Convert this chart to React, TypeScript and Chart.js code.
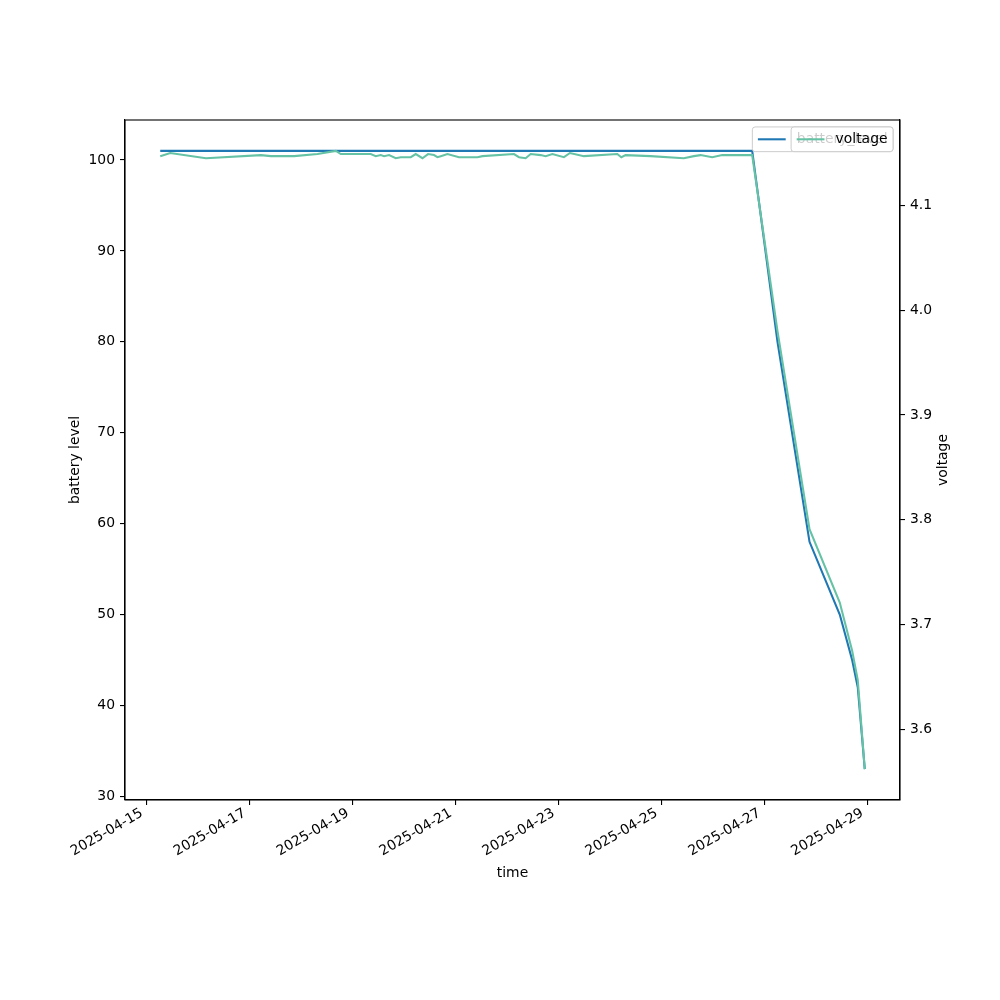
import React, { useEffect, useRef } from "react";
import { Chart, registerables } from "chart.js";

Chart.register(...registerables);

// ---- data ----
const times: string[] = [
  "2025-04-15T06:12", "2025-04-15T10:52", "2025-04-16T03:30", "2025-04-17T05:08",
  "2025-04-17T09:47", "2025-04-17T20:39", "2025-04-18T07:33", "2025-04-18T16:05",
  "2025-04-18T18:25", "2025-04-19T08:23", "2025-04-19T10:43", "2025-04-19T13:03",
  "2025-04-19T14:35", "2025-04-19T16:55", "2025-04-19T20:02", "2025-04-19T22:22",
  "2025-04-20T03:02", "2025-04-20T05:22", "2025-04-20T08:29", "2025-04-20T11:05",
  "2025-04-20T13:53", "2025-04-20T15:28", "2025-04-20T17:01", "2025-04-20T20:08",
  "2025-04-21T01:32", "2025-04-21T10:07", "2025-04-21T12:27", "2025-04-22T03:10",
  "2025-04-22T05:30", "2025-04-22T08:37", "2025-04-22T10:57", "2025-04-22T15:37",
  "2025-04-22T17:57", "2025-04-22T21:04", "2025-04-23T02:28", "2025-04-23T05:16",
  "2025-04-23T11:47", "2025-04-24T03:21", "2025-04-24T05:13", "2025-04-24T07:13",
  "2025-04-24T18:52", "2025-04-25T10:23", "2025-04-25T15:03", "2025-04-25T18:10",
  "2025-04-25T23:37", "2025-04-26T04:17", "2025-04-26T18:15", "2025-04-27T06:03",
  "2025-04-27T20:59", "2025-04-28T11:05", "2025-04-28T16:52", "2025-04-28T19:29",
  "2025-04-28T22:45",
];

const batteryLevel: number[] = [
  101, 101, 101, 101, 101, 101, 101, 101, 101, 101,
  101, 101, 101, 101, 101, 101, 101, 101, 101, 101,
  101, 101, 101, 101, 101, 101, 101, 101, 101, 101,
  101, 101, 101, 101, 101, 101, 101, 101, 101, 101,
  101, 101, 101, 101, 101, 101, 101, 80, 58, 50,
  45, 42, 33,
];

const voltage: number[] = [
  4.147, 4.150, 4.145, 4.148, 4.147, 4.147, 4.149, 4.152, 4.149, 4.149,
  4.147, 4.148, 4.147, 4.148, 4.145, 4.146, 4.146, 4.149, 4.145, 4.149,
  4.148, 4.146, 4.147, 4.149, 4.146, 4.146, 4.147, 4.149, 4.146, 4.145,
  4.149, 4.148, 4.147, 4.149, 4.146, 4.150, 4.147, 4.149, 4.146, 4.148,
  4.147, 4.145, 4.147, 4.148, 4.146, 4.148, 4.148, 3.980, 3.791, 3.721,
  3.675, 3.647, 3.562,
];

const xTickLabels: string[] = [
  "2025-04-15", "2025-04-17", "2025-04-19", "2025-04-21",
  "2025-04-23", "2025-04-25", "2025-04-27", "2025-04-29",
];
const batteryTicks: number[] = [30, 40, 50, 60, 70, 80, 90, 100];
const voltageTicks: number[] = [3.6, 3.7, 3.8, 3.9, 4.0, 4.1];

// ---- styling ----
const FONT_FAMILY = "DejaVu Sans";
const FS = 13.9;
const BLUE = "#1f77b4";
const GREEN = "#66c2a5";

const toMs = (s: string) =>
  Date.parse(s.length <= 10 ? s + "T00:00:00Z" : s + ":00Z");

function padRange(vals: number[], frac = 0.05): [number, number] {
  const mn = Math.min(...vals);
  const mx = Math.max(...vals);
  const d = (mx - mn) * frac;
  return [mn - d, mx + d];
}

function roundRect(ctx: CanvasRenderingContext2D, x: number, y: number, w: number, h: number, r: number) {
  ctx.beginPath();
  ctx.moveTo(x + r, y);
  ctx.lineTo(x + w - r, y);
  ctx.arcTo(x + w, y, x + w, y + r, r);
  ctx.lineTo(x + w, y + h - r);
  ctx.arcTo(x + w, y + h, x + w - r, y + h, r);
  ctx.lineTo(x + r, y + h);
  ctx.arcTo(x, y + h, x, y + h - r, r);
  ctx.lineTo(x, y + r);
  ctx.arcTo(x, y, x + r, y, r);
  ctx.closePath();
}

const overlayPlugin = {
  id: "overlay",
  afterDraw(chart: any) {
    const ctx: CanvasRenderingContext2D = chart.ctx;
    const ca = chart.chartArea;
    ctx.save();
    // frame
    ctx.strokeStyle = "#000";
    ctx.lineWidth = 1.1;
    ctx.strokeRect(ca.left, ca.top, ca.right - ca.left, ca.bottom - ca.top);

    // right axis title
    ctx.font = `${FS}px "${FONT_FAMILY}"`;
    ctx.fillStyle = "#000";
    ctx.textAlign = "center";
    ctx.textBaseline = "middle";
    ctx.translate(943.5, (ca.top + ca.bottom) / 2);
    ctx.rotate(-Math.PI / 2);
    ctx.fillText("voltage", 0, 0);
    ctx.setTransform(1, 0, 0, 1, 0, 0);
    ctx.restore();

    // two overlapping legends (matplotlib style)
    const drawLegend = (label: string, color: string) => {
      ctx.save();
      ctx.font = `${FS}px "${FONT_FAMILY}"`;
      const pad = 0.4 * FS;
      const handleLen = 2.0 * FS;
      const textPad = 0.8 * FS;
      const tw = ctx.measureText(label).width;
      const w = 2 * pad + handleLen + textPad + tw;
      const h = 24.7;
      const x = ca.right - 0.5 * FS - w;
      const y = ca.top + 0.5 * FS;
      roundRect(ctx, x, y, w, h, 2.8);
      ctx.fillStyle = "rgba(255,255,255,0.8)";
      ctx.fill();
      ctx.strokeStyle = "#cccccc";
      ctx.lineWidth = 1;
      ctx.stroke();
      const cy = y + h / 2;
      ctx.beginPath();
      ctx.moveTo(x + pad, cy);
      ctx.lineTo(x + pad + handleLen, cy);
      ctx.strokeStyle = color;
      ctx.lineWidth = 2.08;
      ctx.stroke();
      ctx.fillStyle = "#000";
      ctx.textAlign = "left";
      ctx.textBaseline = "middle";
      ctx.fillText(label, x + pad + handleLen + textPad, cy + 0.5);
      ctx.restore();
    };
    drawLegend("battery_level", BLUE);
    drawLegend("voltage", GREEN);
  },
};

export default function App() {
  const canvasRef = useRef<HTMLCanvasElement | null>(null);

  useEffect(() => {
    if (!canvasRef.current) return;
    const xs = times.map(toMs);
    const [xMin, xMax] = padRange(xs);
    const [bMin, bMax] = padRange(batteryLevel);
    const [vMin, vMax] = padRange(voltage);
    const font = { family: FONT_FAMILY, size: FS };

    const tickGrid = {
      drawOnChartArea: false,
      drawTicks: true,
      tickLength: 5,
      color: "#000",
      tickColor: "#000",
      lineWidth: 1.1,
    };
    const border = { display: true, color: "#000", width: 1.1 };

    const chart = new Chart(canvasRef.current, {
      type: "line",
      data: {
        datasets: [
          {
            label: "voltage",
            data: xs.map((x, i) => ({ x, y: voltage[i] })),
            borderColor: GREEN,
            backgroundColor: GREEN,
            borderWidth: 2.08,
            pointRadius: 0,
            tension: 0,
            yAxisID: "y1",
            order: 0,
          },
          {
            label: "battery_level",
            data: xs.map((x, i) => ({ x, y: batteryLevel[i] })),
            borderColor: BLUE,
            backgroundColor: BLUE,
            borderWidth: 2.08,
            pointRadius: 0,
            tension: 0,
            yAxisID: "y",
            order: 1,
          },
        ],
      },
      options: {
        responsive: false,
        animation: false,
        devicePixelRatio: 1,
        layout: { padding: { left: 66.7, right: 0, top: 120, bottom: 118.7 } },
        plugins: { legend: { display: false }, tooltip: { enabled: false } },
        scales: {
          x: {
            type: "linear",
            position: "bottom",
            min: xMin,
            max: xMax,
            afterBuildTicks: (s: any) => {
              s.ticks = xTickLabels.map((l) => ({ value: toMs(l) }));
            },
            afterFit: (s: any) => {
              s.height = 1000 - 118.7 - 800;
            },
            ticks: {
              callback: (v: any) => new Date(Number(v)).toISOString().slice(0, 10),
              minRotation: 30,
              maxRotation: 30,
              autoSkip: false,
              padding: 0,
              labelOffset: -5,
              color: "#000",
              font,
            },
            grid: tickGrid,
            border,
            title: { display: true, text: "time", color: "#000", font, padding: 0 },
          },
          y: {
            type: "linear",
            position: "left",
            min: bMin,
            max: bMax,
            afterBuildTicks: (s: any) => {
              s.ticks = batteryTicks.map((v) => ({ value: v }));
            },
            afterFit: (s: any) => {
              s.width = 125 - 66.7;
            },
            ticks: { color: "#000", font, padding: 5, callback: (v: any) => String(v) },
            grid: tickGrid,
            border,
            title: { display: true, text: "battery level", color: "#000", font, padding: 0 },
          },
          y1: {
            type: "linear",
            position: "right",
            min: vMin,
            max: vMax,
            afterBuildTicks: (s: any) => {
              s.ticks = voltageTicks.map((v) => ({ value: v }));
            },
            afterFit: (s: any) => {
              s.width = 100;
            },
            ticks: { color: "#000", font, padding: 5, callback: (v: any) => Number(v).toFixed(1) },
            grid: tickGrid,
            border,
          },
        },
      },
      plugins: [overlayPlugin],
    } as any);

    return () => chart.destroy();
  }, []);

  return (
    <div style={{ position: "absolute", left: 0, top: 0, width: 1000, height: 1000, background: "#fff" }}>
      <canvas ref={canvasRef} width={1000} height={1000} style={{ width: 1000, height: 1000 }} />
    </div>
  );
}
